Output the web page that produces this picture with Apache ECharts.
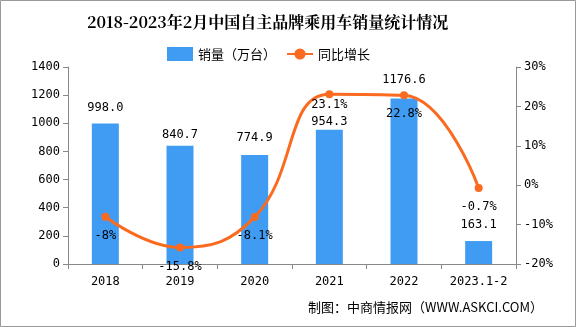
<!DOCTYPE html>
<html><head><meta charset="utf-8">
<script src="https://cdn.jsdelivr.net/npm/echarts@6/dist/echarts.min.js"></script>
<style>html,body{margin:0;padding:0;background:#fff}#c{width:576px;height:327px}</style>
</head><body><div id="c"></div>
<script>
const categories = ['2018','2019','2020','2021','2022','2023.1-2'];
const sales = [998.0, 840.7, 774.9, 954.3, 1176.6, 163.1];
const growth = [-8, -15.8, -8.1, 23.1, 22.8, -0.7];
const growthLabels = ['-8%','-15.8%','-8.1%','23.1%','22.8%','-0.7%'];
const leftTicks = {min:0, max:1400, interval:200};
const rightTicks = {min:-20, max:30, interval:10};

const barLabelDist = [10, 5, 11, 2, 13, 10];
const lineLabelDist = [9, 9, 9, 1, 9, 9];

const numFont = '"DejaVu Sans Mono", monospace';
const chart = echarts.init(document.getElementById('c'));
chart.setOption({
  animation:false,
  title:{text:'2018-2023年2月中国自主品牌乘用车销量统计情况',left:82,top:9,
    textStyle:{fontSize:16,fontWeight:'bold',color:'#000',fontFamily:'"Noto Serif CJK SC","Noto Sans CJK SC",serif'}},
  legend:{top:42,left:162,itemGap:10,itemWidth:26,itemHeight:14,
    textStyle:{fontSize:13,color:'#000',fontFamily:'"Noto Sans CJK SC",sans-serif'},
    data:[{name:'销量（万台）',icon:'rect'},{name:'同比增长'}]},
  grid:{left:68,right:60,top:67,bottom:63},
  graphic:[
    {type:'rect',shape:{x:0.5,y:0.5,width:575,height:326},style:{fill:'none',stroke:'#999',lineWidth:1}},
    {type:'text',right:33,top:301,style:{text:'制图：中商情报网（WWW.ASKCI.COM）',fill:'#000',font:'13px "Noto Sans CJK SC", sans-serif'}}
  ],
  xAxis:{type:'category',data:categories,
    axisLine:{lineStyle:{color:'#888'}},
    axisTick:{show:true,lineStyle:{color:'#888'}},
    axisLabel:{color:'#000',fontSize:12,margin:12,interval:0,fontFamily:numFont}},
  yAxis:[
    {type:'value',min:leftTicks.min,max:leftTicks.max,interval:leftTicks.interval,
      axisLine:{show:true,lineStyle:{color:'#888'}},axisTick:{show:true,lineStyle:{color:'#888'}},
      splitLine:{show:false},axisLabel:{color:'#000',fontSize:12,fontFamily:numFont,formatter:v=>String(v)}},
    {type:'value',min:rightTicks.min,max:rightTicks.max,interval:rightTicks.interval,
      axisLine:{show:true,lineStyle:{color:'#888'}},axisTick:{show:true,lineStyle:{color:'#888'}},
      splitLine:{show:false},axisLabel:{color:'#000',fontSize:12,fontFamily:numFont,formatter:'{value}%'}}
  ],
  series:[
    {name:'销量（万台）',type:'bar',barWidth:27,itemStyle:{color:'#3f9cf2'},
      data:sales.map((v,i)=>({value:v,label:{distance:barLabelDist[i]}})),
      label:{show:true,position:'top',color:'#000',fontSize:12,fontFamily:numFont,
        formatter:p=>p.value.toFixed(1)}},
    {name:'同比增长',type:'line',yAxisIndex:1,smooth:0.45,symbol:'circle',symbolSize:8,
      data:growth.map((v,i)=>({value:v,label:{distance:lineLabelDist[i]}})),
      itemStyle:{color:'#fa6a1f'},lineStyle:{color:'#fa6a1f',width:3},
      label:{show:true,position:'bottom',color:'#000',fontSize:12,fontFamily:numFont,
        formatter:p=>growthLabels[p.dataIndex]}}
  ]
});
</script></body></html>
